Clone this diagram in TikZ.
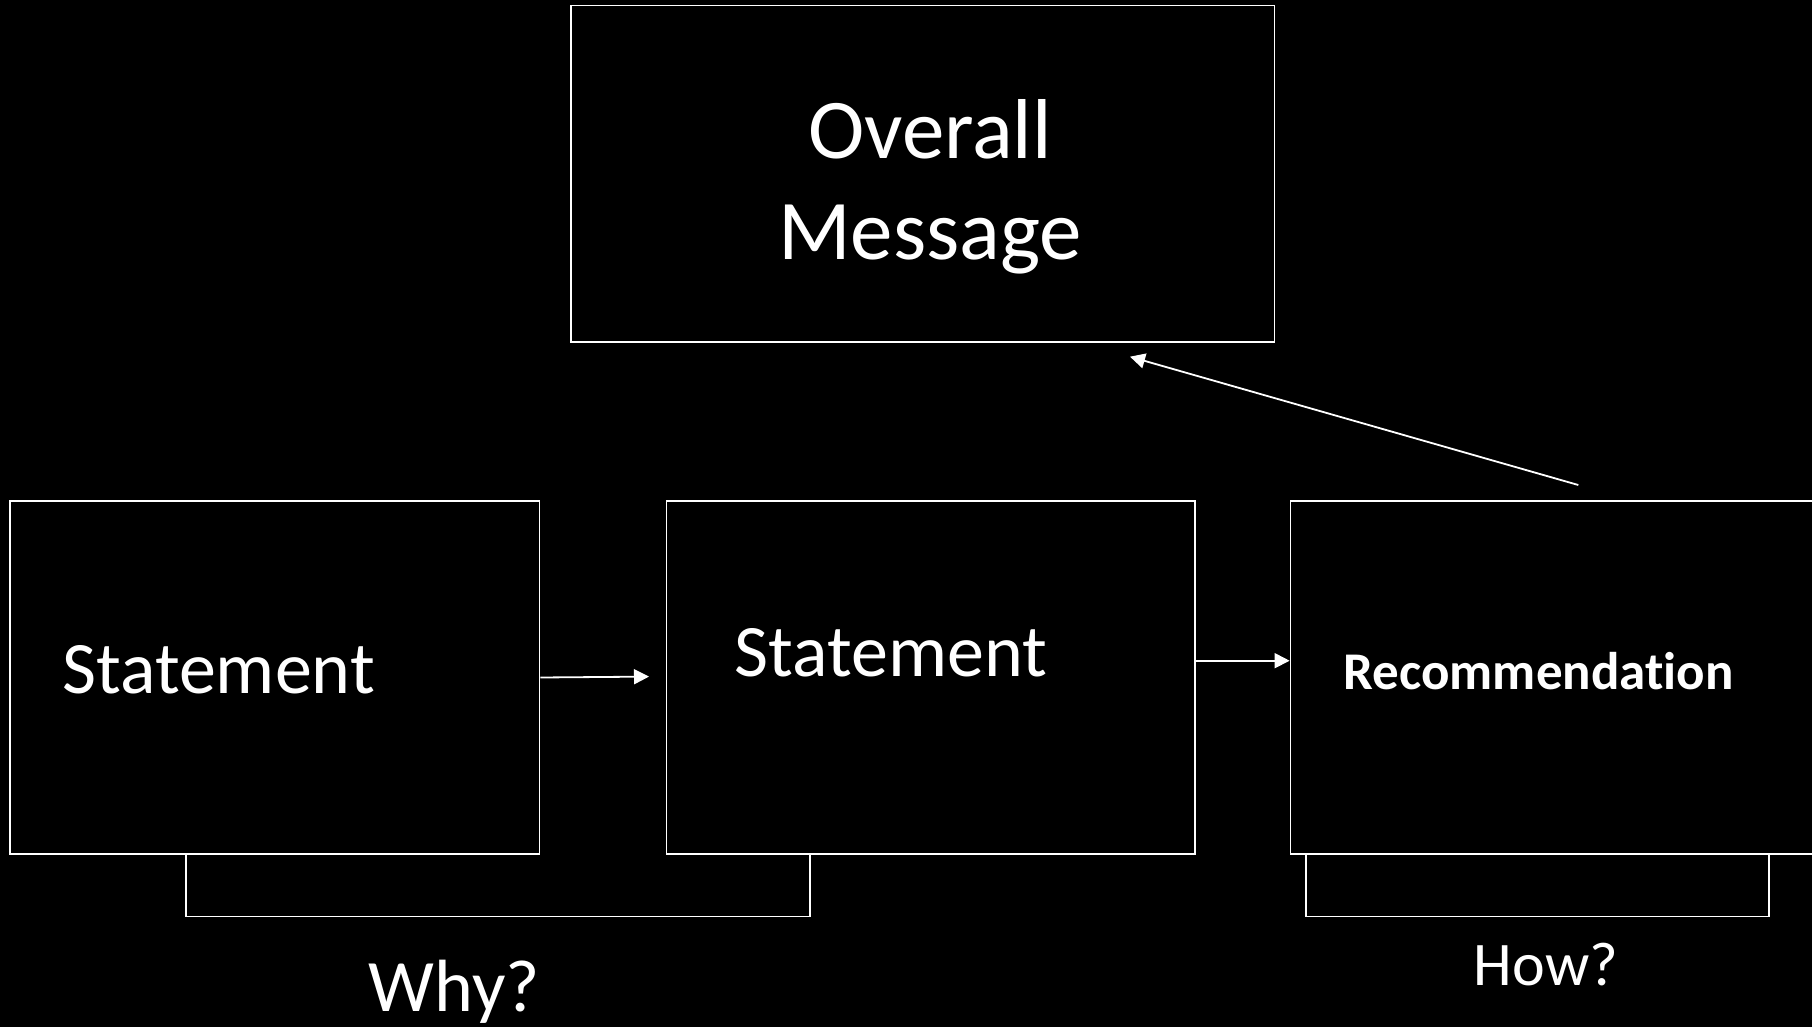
\documentclass[tikz,border=0pt]{standalone}
\usepackage{fontspec}
\setmainfont{Carlito}[Ligatures=NoCommon]
\usetikzlibrary{arrows.meta,calc}
\begin{document}
\begin{tikzpicture}[x=1pt,y=-1pt,
  line width=1.8pt,
  frame/.style={draw=white, inner sep=0pt, anchor=north west, minimum height=352.4pt},
  lbl/.style={text=white, inner sep=0pt, anchor=base west},
  conn/.style={draw=white, line width=1.8pt},
  arr/.style={conn, -{Triangle[length=15pt,width=15pt]}}
]
\fill[black] (0,0) rectangle (1812,1027);
\useasboundingbox (0,0) rectangle (1812,1027);

% boxes
\node[frame, minimum width=703.8pt, minimum height=336.4pt] (T) at (569.7,4.6) {};
\node[frame, minimum width=529.3pt] (L) at (9.2,500.4) {};
\node[frame, minimum width=528.1pt] (M) at (665.6,500.4) {};
\node[frame, minimum width=528pt] (R) at (1289.6,500.4) {};

% texts
\node[text=white, inner sep=0pt, anchor=base, font=\fontsize{85}{100}\selectfont] (t1) at (930,159) {Overall};
\node[text=white, inner sep=0pt, anchor=base, font=\fontsize{85}{100}\selectfont] (t2) at (930,259) {Message};
\node[lbl, font=\fontsize{74}{88}\selectfont] (s1) at (61.5,693.4) {Statement};
\node[lbl, font=\fontsize{74}{88}\selectfont] (s2) at (734,676) {Statement};
\node[lbl, font=\fontsize{53}{64}\selectfont\bfseries] (rec) at (1342.8,689) {Recommendation};
\node[lbl, font=\fontsize{74}{88}\selectfont] (why) at (368,1011.7) {Why?};
\node[lbl, font=\fontsize{62}{74}\selectfont] (how) at (1473,985) {How?};

% connectors
\coordinate (a1) at (649,676.6);
\draw[arr] (L.east) -- (a1);
\coordinate (a2) at (0,660.7);
\draw[arr] (M.east |- a2) -- (R.west |- a2);
\coordinate (a3s) at (1578.3,485);
\coordinate (a3e) at (1130,356.7);
\draw[arr] (a3s) -- (a3e);

% brackets
\coordinate (w1) at (186,916.4);
\coordinate (w2) at (810,916.4);
\draw[conn] (L.south -| w1) -- (w1) -- (w2) -- (M.south -| w2);
\coordinate (h1) at (1305.8,916.4);
\coordinate (h2) at (1769.2,916.4);
\draw[conn] (R.south -| h1) -- (h1) -- (h2) -- (R.south -| h2);
\end{tikzpicture}
\end{document}
